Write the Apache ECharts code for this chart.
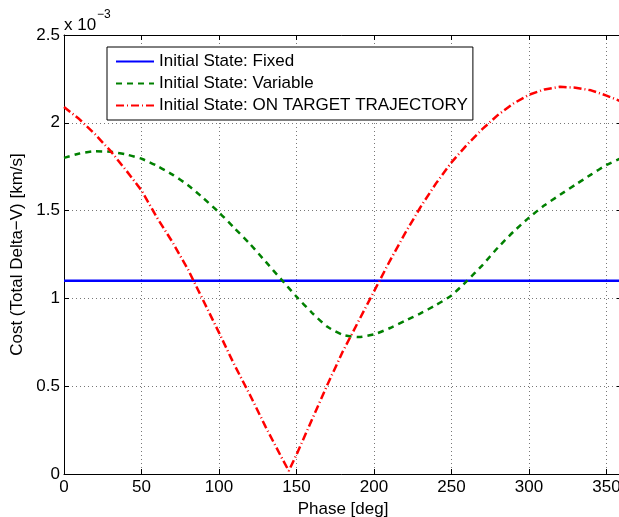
<!DOCTYPE html>
<html>
<head>
<meta charset="utf-8">
<script src="https://cdn.jsdelivr.net/npm/echarts@6/dist/echarts.min.js"></script>
<style>html,body{margin:0;padding:0;background:#fff}#c{width:619px;height:517px}</style>
</head>
<body>
<div id="c"></div>
<script>
// Phase [deg]
const phases = [0,10,20,30,40,50,60,70,80,90,100,110,120,130,140,150,160,170,180,190,200,210,220,230,240,250,260,270,280,290,300,310,320,330,340,350,360];
const phasesTarget = [0,10,20,30,40,50,60,70,80,90,100,110,120,130,140,145,150,160,170,180,190,200,210,220,230,240,250,260,270,280,290,300,310,320,330,340,350,360];
// Cost values in units of 1e-3 km/s
const costFixed = [1.1,1.1,1.1,1.1,1.1,1.1,1.1,1.1,1.1,1.1,1.1,1.1,1.1,1.1,1.1,1.1,1.1,1.1,1.1,1.1,1.1,1.1,1.1,1.1,1.1,1.1,1.1,1.1,1.1,1.1,1.1,1.1,1.1,1.1,1.1,1.1,1.1];
const costVariable = [1.80,1.825,1.838,1.835,1.82,1.795,1.755,1.705,1.645,1.57,1.49,1.40,1.31,1.21,1.11,1.01,0.918,0.838,0.792,0.78,0.795,0.83,0.872,0.915,0.962,1.017,1.10,1.19,1.29,1.38,1.46,1.53,1.59,1.648,1.705,1.76,1.80];
const costTarget = [2.09,2.02,1.935,1.84,1.73,1.615,1.46,1.32,1.165,0.985,0.805,0.62,0.45,0.27,0.10,0.018,0.11,0.31,0.51,0.70,0.87,1.04,1.21,1.37,1.52,1.655,1.775,1.875,1.965,2.045,2.11,2.16,2.19,2.205,2.20,2.185,2.155,2.12];
const xTicks = [0,50,100,150,200,250,300,350];
const yTicks = [0,0.5,1,1.5,2,2.5];
const seriesNames = ['Initial State: Fixed','Initial State: Variable','Initial State: ON TARGET TRAJECTORY'];

const pairs = (xs, ys) => xs.map((x, i) => [x, ys[i]]);
const FONT = 'Liberation Sans, Arial, Helvetica, sans-serif';
const FS = 17;
const gridDots = {show: true, lineStyle: {color: '#777', type: [1, 3], width: 1}};

const chart = echarts.init(document.getElementById('c'), null, {renderer: 'canvas'});
chart.setOption({
  animation: false,
  backgroundColor: '#fff',
  textStyle: {fontFamily: FONT},
  grid: {left: 64, top: 35, right: -3, bottom: 43, show: false, containLabel: false, outerBoundsMode: 'none'},
  legend: {
    orient: 'vertical', left: 107, top: 47,
    backgroundColor: '#fff', borderColor: '#000', borderWidth: 1, borderRadius: 0,
    padding: [6, 5, 6, 8], itemGap: 5, itemWidth: 38, itemHeight: 14,
    itemStyle: {opacity: 0},
    textStyle: {fontSize: FS, lineHeight: 17, color: '#000', fontFamily: FONT},
    data: seriesNames,
    selectedMode: false
  },
  graphic: [{
    type: 'text', x: 64, y: 25, silent: true,
    style: {text: 'x 10', fontSize: FS, fontFamily: FONT, fill: '#000', verticalAlign: 'middle', align: 'left'}
  }, {
    type: 'text', x: 97, y: 15, silent: true,
    style: {text: '−3', fontSize: 12, fontFamily: FONT, fill: '#000', verticalAlign: 'middle', align: 'left'}
  }],
  xAxis: [{
    type: 'value', min: 0, max: 360, interval: 50,
    name: 'Phase [deg]', nameLocation: 'middle', nameGap: 25,
    nameTextStyle: {fontSize: FS, color: '#000', fontFamily: FONT},
    axisLine: {show: true, onZero: false, lineStyle: {color: '#000', width: 1}},
    axisTick: {show: true, inside: true, length: 5, lineStyle: {color: '#000'}},
    axisLabel: {fontSize: FS, color: '#000', margin: 5, fontFamily: FONT, showMaxLabel: false,
      formatter: v => xTicks.includes(v) ? String(v) : ''},
    splitLine: gridDots
  }, {
    type: 'value', min: 0, max: 360, interval: 50, position: 'top',
    axisLine: {show: true, onZero: false, lineStyle: {color: '#000', width: 1}},
    axisTick: {show: true, inside: true, length: 5, lineStyle: {color: '#000'}},
    axisLabel: {show: false}, splitLine: {show: false}
  }],
  yAxis: [{
    type: 'value', min: 0, max: 2.5, interval: 0.5,
    name: 'Cost (Total Delta−V) [km/s]', nameLocation: 'middle', nameGap: 34,
    nameTextStyle: {fontSize: FS, color: '#000', fontFamily: FONT},
    axisLine: {show: true, onZero: false, lineStyle: {color: '#000', width: 1}},
    axisTick: {show: true, inside: true, length: 5, lineStyle: {color: '#000'}},
    axisLabel: {fontSize: FS, color: '#000', margin: 4, fontFamily: FONT,
      formatter: v => yTicks.includes(v) ? String(v) : ''},
    splitLine: gridDots
  }, {
    type: 'value', min: 0, max: 2.5, interval: 0.5, position: 'right',
    axisLine: {show: true, onZero: false, lineStyle: {color: '#000', width: 1}},
    axisTick: {show: true, inside: true, length: 5, lineStyle: {color: '#000'}},
    axisLabel: {show: false}, splitLine: {show: false}
  }],
  series: [{
    name: seriesNames[0], type: 'line', showSymbol: false, symbol: 'none',
    data: pairs(phases, costFixed),
    lineStyle: {color: '#0000ff', width: 2.5, type: 'solid'}, itemStyle: {color: '#0000ff'}
  }, {
    name: seriesNames[1], type: 'line', showSymbol: false, symbol: 'none', smooth: 0.2,
    data: pairs(phases, costVariable),
    lineStyle: {color: '#008000', width: 2.5, type: [6, 5]}, itemStyle: {color: '#008000'}
  }, {
    name: seriesNames[2], type: 'line', showSymbol: false, symbol: 'none',
    data: pairs(phasesTarget, costTarget),
    lineStyle: {color: '#ff0000', width: 2.5, type: [8, 3, 1, 3]}, itemStyle: {color: '#ff0000'}
  }]
});
</script>
</body>
</html>
